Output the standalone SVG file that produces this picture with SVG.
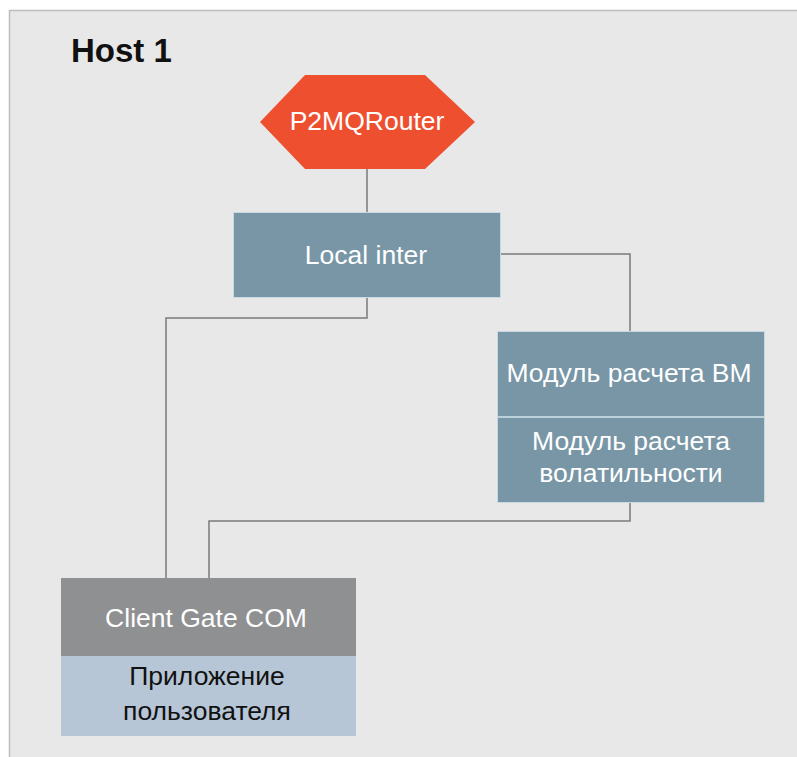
<svg xmlns="http://www.w3.org/2000/svg" width="797" height="757" viewBox="0 0 797 757">
<style>
.t{font-family:"Liberation Sans",Arial,sans-serif;font-size:26.5px;text-anchor:middle;fill:#ffffff}
.d{fill:#111111}
.c{fill:none;stroke:#7a7a7a;stroke-width:1.5}
.box{fill:#7896a6;stroke:#c9d9e2;stroke-width:1}
</style>
<rect width="797" height="757" fill="#ffffff"/>
<rect x="9.5" y="10.5" width="790" height="750" fill="#e8e8e8" stroke="#bdbdbd" stroke-width="1.5"/>
<text x="71" y="62" font-family="'Liberation Sans',Arial,sans-serif" font-size="33" font-weight="bold" fill="#111111">Host 1</text>
<g id="connectors">
<path class="c" d="M367,169 V212"/>
<path class="c" d="M367,297 V318 H166 V578"/>
<path class="c" d="M501,254 H630 V331"/>
<path class="c" d="M630,502 V521 H209 V578"/>
</g>
<g id="p2mqrouter">
<polygon points="260,122 305,75 425,75 475,122 425,169 305,169" fill="#ee4f2f"/>
<text class="t" x="367" y="130">P2MQRouter</text>
</g>
<g id="local-inter">
<rect class="box" x="233.5" y="212.5" width="267" height="85"/>
<text class="t" x="366" y="264">Local inter</text>
</g>
<g id="module">
<rect class="box" x="497.5" y="331.5" width="267" height="171"/>
<line x1="498" y1="417" x2="764" y2="417" stroke="#d3e3ea" stroke-width="1.5"/>
<text class="t" x="629" y="382">Модуль расчета ВМ</text>
<text class="t" x="631" y="450">Модуль расчета</text>
<text class="t" x="631" y="482">волатильности</text>
</g>
<g id="client-gate">
<rect x="61" y="578" width="295" height="78" fill="#8f9092"/>
<rect x="61" y="656" width="295" height="80" fill="#b6c6d6"/>
<text class="t" x="206" y="627">Client Gate COM</text>
<text class="t d" x="207" y="685">Приложение</text>
<text class="t d" x="207" y="720">пользователя</text>
</g>
</svg>
